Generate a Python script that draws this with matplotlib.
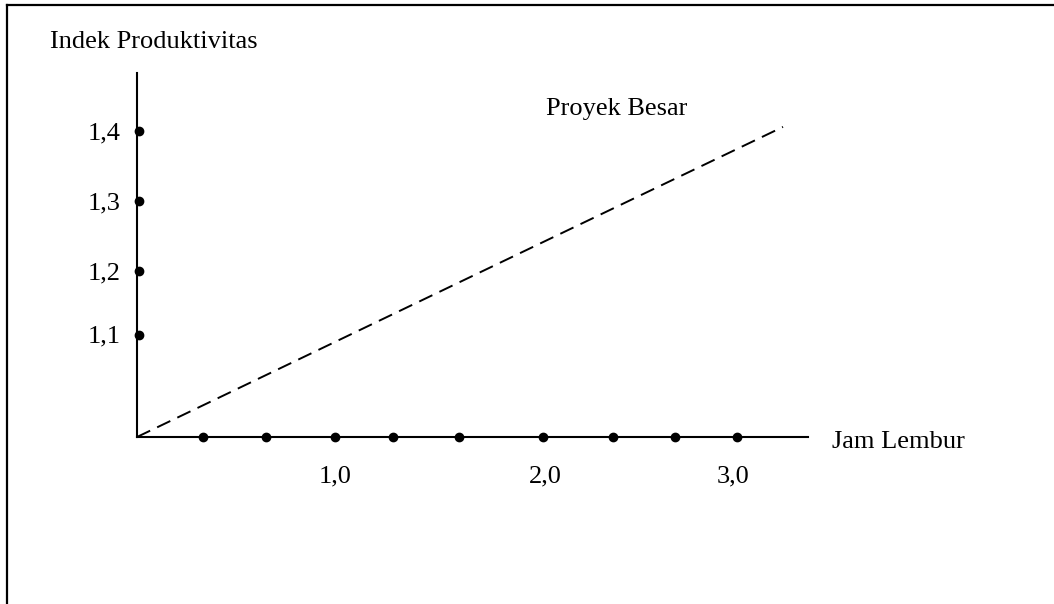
import matplotlib
matplotlib.use('Agg')
import matplotlib.pyplot as plt
from matplotlib.lines import Line2D

plt.rcParams['font.family'] = ['Liberation Serif', 'DejaVu Serif']

# data
jam_dots = [0.33, 0.645, 0.99, 1.28, 1.61, 2.03, 2.38, 2.69, 3.0]   # dots on the x axis
x_lbl_pos = [0.99, 2.04, 2.98]
x_lbl = ['1,0', '2,0', '3,0']
indek_dots = [1.109, 1.2, 1.3, 1.4]
y_lbl = ['1,1', '1,2', '1,3', '1,4']
besar_x = [0.0, 3.23]          # Proyek Besar (dashed)
besar_y = [0.963, 1.406]

W, H = 1054, 604
fs = 19

fig = plt.figure(figsize=(W / 100, H / 100), dpi=100)
ax = fig.add_axes([137 / W, (H - 437) / H, 671 / W, 364 / H])
ax.set_xlim(0, 3.355)
ax.set_ylim(0.963, 1.483)
ax.patch.set_alpha(0)

for s in ['top', 'right']:
    ax.spines[s].set_visible(False)
for s in ['left', 'bottom']:
    ax.spines[s].set_linewidth(1.5)
    ax.spines[s].set_color('black')
ax.set_xticks([])
ax.set_yticks([])

# dashed line
ax.plot(besar_x, besar_y, color='black', lw=1.4, linestyle=(0, (7.5, 4)),
        clip_on=False)

# dots on axes
ax.plot(jam_dots, [0.963] * len(jam_dots), 'o', color='black', ms=6,
        clip_on=False)
ax.plot([0.01] * len(indek_dots), indek_dots, 'o', color='black', ms=6,
        clip_on=False)

# tick labels
for xp, t in zip(x_lbl_pos, x_lbl):
    ax.text(xp, 0.898, t, ha='center', va='baseline', fontsize=fs)
for yp, t in zip(indek_dots, y_lbl):
    ax.text(-0.08, yp - 0.0114, t, ha='right', va='baseline', fontsize=fs)

# labels
fig.text(50 / W, 1 - 48 / H, 'Indek Produktivitas', ha='left', va='baseline', fontsize=fs)
fig.text(546 / W, 1 - 115 / H, 'Proyek Besar', ha='left', va='baseline', fontsize=fs)
fig.text(832 / W, 1 - 448 / H, 'Jam Lembur', ha='left', va='baseline', fontsize=fs)

# frame (top + left edge)
fig.add_artist(Line2D([7 / W, 1], [1 - 5 / H, 1 - 5 / H], color='black', lw=1.6,
                      transform=fig.transFigure))
fig.add_artist(Line2D([7 / W, 7 / W], [1 - 5 / H, 0], color='black', lw=1.6,
                      transform=fig.transFigure))

plt.savefig('out.png', dpi=100)
